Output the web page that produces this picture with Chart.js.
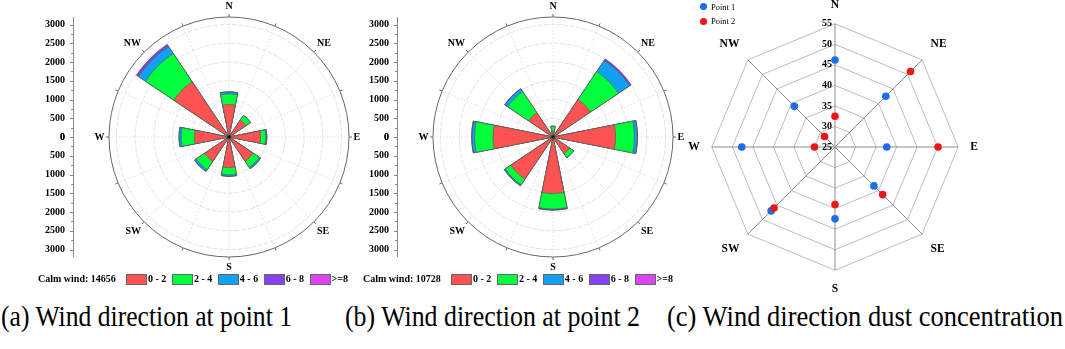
<!DOCTYPE html>
<html>
<head>
<meta charset="utf-8">
<script src="https://cdn.jsdelivr.net/npm/chart.js@4.4.1/dist/chart.umd.min.js"></script>
<style>
body { margin: 0; background: #fff; }
#wrap { position: relative; width: 1065px; height: 349px; overflow: hidden; font-family: 'Liberation Serif', 'Times New Roman', serif; color: #000; }
canvas { position: absolute; }
.lg { position: absolute; font-weight: bold; font-size: 10px; line-height: 12px; white-space: nowrap; }
.box { position: absolute; width: 19px; height: 9px; border: 0.5px solid #666; }
.cap { position: absolute; font-size: 29px; line-height: 29px; white-space: nowrap; transform-origin: 0 0; }
.dot { position: absolute; width: 7px; height: 7px; border-radius: 50%; }
.pl { position: absolute; font-size: 8.5px; line-height: 10px; white-space: nowrap; }
</style>
</head>
<body>
<div id="wrap">
  <canvas id="rose1" width="365" height="275" style="left:0;top:0"></canvas>
  <canvas id="rose2" width="365" height="275" style="left:324px;top:0"></canvas>
  <canvas id="radar" width="300" height="298" style="left:684px;top:-1px"></canvas>

  <div class="dot" style="left:700px;top:3px;background:#1a6ee6"></div>
  <div class="pl" style="left:711px;top:2px">Point 1</div>
  <div class="dot" style="left:700px;top:18px;background:#f01414"></div>
  <div class="pl" style="left:711px;top:16px">Point 2</div>

  <div class="cap" data-w="291" style="left:1px;top:302px">(a) Wind direction at point 1</div>
  <div class="cap" data-w="295" style="left:345px;top:302px">(b) Wind direction at point 2</div>
  <div class="cap" data-w="396" style="left:667px;top:302px">(c) Wind direction dust concentration</div>
</div>
<script>
var directions = ['N', 'NE', 'E', 'SE', 'S', 'SW', 'W', 'NW'];
var speedClasses = ['0 - 2', '2 - 4', '4 - 6', '6 - 8', '>=8'];
var speedColors = ['#ff5252', '#00ff3c', '#12a0f0', '#8344ee', '#dd44f4'];

// wind counts per direction (N, NE, E, SE, S, SW, W, NW), point 1
var p1Speed0_2 = [870, 545, 840, 775, 815, 780, 920, 1770];
var p1Speed2_4 = [280, 145, 140, 200, 195, 270, 355, 910];
var p1Speed4_6 = [50, 0, 25, 35, 35, 50, 55, 225];
var p1Speed6_8 = [5, 0, 5, 5, 5, 5, 5, 55];
var p1Speed8 = [0, 0, 0, 0, 0, 0, 0, 10];
var calmWind1 = 14656;

// point 2
var p2Speed0_2 = [150, 1200, 1670, 530, 1510, 1350, 1600, 780];
var p2Speed2_4 = [135, 900, 500, 130, 410, 180, 490, 670];
var p2Speed4_6 = [0, 360, 75, 0, 20, 30, 70, 90];
var p2Speed6_8 = [5, 40, 10, 5, 10, 5, 10, 10];
var p2Speed8 = [0, 5, 0, 0, 0, 0, 0, 0];
var calmWind2 = 10728;

var roseTicks = [0, 500, 1000, 1500, 2000, 2500, 3000];
var roseMax = 3200;

// dust concentration by wind direction
var dustTicks = [25, 30, 35, 40, 45, 50, 55];
var dustPoint1 = [46.2, 42.5, 37.6, 38.4, 42.5, 47, 47.7, 39];
var dustPoint2 = [32.5, 51, 50.1, 41.4, 39, 46, 30, 28.6];

var serif = 'Liberation Serif';

// wind rose extras: angle lines, outer ticks, direction labels, left axis
var rosePlugin = {
  id: 'roseExtras',
  beforeDatasetsDraw: function(chart) {
    var s = chart.scales.r, ctx = chart.ctx;
    ctx.save();
    ctx.strokeStyle = '#d8d8d8';
    ctx.lineWidth = 0.8;
    ctx.setLineDash([1.5, 2]);
    for (var i = 0; i < 16; i++) {
      var p = s.getPointPosition(i, s.drawingArea, Math.PI / 16);
      ctx.beginPath();
      ctx.moveTo(s.xCenter, s.yCenter);
      ctx.lineTo(p.x, p.y);
      ctx.stroke();
    }
    ctx.restore();
  },
  afterDraw: function(chart) {
    var s = chart.scales.r, ctx = chart.ctx;
    var R = s.drawingArea;
    ctx.save();
    // ticks on the outer ring
    ctx.strokeStyle = '#666';
    ctx.lineWidth = 1;
    for (var i = 0; i < 16; i++) {
      var a = s.getPointPosition(i, R, Math.PI / 16);
      var b = s.getPointPosition(i, R + 3, Math.PI / 16);
      ctx.beginPath(); ctx.moveTo(a.x, a.y); ctx.lineTo(b.x, b.y); ctx.stroke();
    }
    // direction labels
    ctx.fillStyle = '#000';
    ctx.font = 'bold 10px "' + serif + '"';
    ctx.textBaseline = 'middle';
    for (var k = 0; k < directions.length; k++) {
      var deg = k * 45;
      var p = s.getPointPosition(2 * k, R + 4.5, Math.PI / 16);
      var y = p.y;
      if (deg === 0 || deg === 180) ctx.textAlign = 'center';
      else ctx.textAlign = deg < 180 ? 'left' : 'right';
      if (deg < 90 || deg > 270) y = p.y - 6;
      else if (deg > 90 && deg < 270) y = p.y + 6;
      ctx.fillText(directions[k], p.x, y);
    }
    // left value axis
    var ax = s.xCenter - 156;
    ctx.strokeStyle = '#888';
    ctx.beginPath(); ctx.moveTo(ax + 0.5, s.yCenter - R); ctx.lineTo(ax + 0.5, s.yCenter + R); ctx.stroke();
    ctx.textAlign = 'right';
    for (var t = 0; t < roseTicks.length; t++) {
      var v = roseTicks[t];
      var d = s.getDistanceFromCenterForValue(v);
      [-1, 1].forEach(function(sign) {
        var yy = Math.round(s.yCenter + sign * d) + 0.5;
        ctx.beginPath(); ctx.moveTo(ax - 3, yy); ctx.lineTo(ax, yy); ctx.stroke();
        if (v < roseTicks[roseTicks.length - 1]) {
          var ym = Math.round(s.yCenter + sign * s.getDistanceFromCenterForValue(v + 250)) + 0.5;
          ctx.beginPath(); ctx.moveTo(ax - 2, ym); ctx.lineTo(ax, ym); ctx.stroke();
        }
        ctx.fillText(String(v), ax - 8, s.yCenter + sign * d);
      });
    }
    // centre dot
    ctx.fillStyle = '#111';
    ctx.fillRect(s.xCenter - 1.5, s.yCenter - 1.5, 3, 3);
    ctx.restore();
  }
};

function makeRose(id, classes) {
  var labels = [];
  directions.forEach(function(d) { labels.push(d, ''); });
  var running = directions.map(function() { return 0; });
  var datasets = classes.map(function(vals, c) {
    var data = [];
    vals.forEach(function(v, i) {
      running[i] += v;
      data.push(running[i], 0);
    });
    return {
      label: speedClasses[c],
      data: data,
      backgroundColor: speedColors[c],
      borderColor: '#555',
      borderWidth: 0.6
    };
  });
  return new Chart(document.getElementById(id), {
    type: 'polarArea',
    data: { labels: labels, datasets: datasets },
    options: {
      responsive: false,
      animation: false,
      events: [],
      layout: { padding: { left: 109, top: 17, right: 16, bottom: 18 } },
      plugins: { legend: { display: false }, tooltip: { enabled: false } },
      scales: {
        r: {
          min: 0,
          max: roseMax,
          startAngle: -11.25,
          afterBuildTicks: function(scale) {
            scale.ticks = roseTicks.concat([roseMax]).map(function(v) { return { value: v }; });
          },
          ticks: { display: false },
          grid: {
            color: function(c) { return c.tick && c.tick.value >= roseMax ? '#666' : '#e2e2e2'; },
            lineWidth: 1
          },
          border: { dash: function(c) { return c.tick && c.tick.value >= roseMax ? [] : [5, 1.5]; } },
          angleLines: { display: false },
          pointLabels: { display: false }
        }
      }
    },
    plugins: [rosePlugin]
  });
}

makeRose('rose1', [p1Speed0_2, p1Speed2_4, p1Speed4_6, p1Speed6_8, p1Speed8]);
makeRose('rose2', [p2Speed0_2, p2Speed2_4, p2Speed4_6, p2Speed6_8, p2Speed8]);

// radar tick labels sit just left of the north axis
var radarTicks = {
  id: 'radarTicks',
  afterDatasetsDraw: function(chart) {
    var s = chart.scales.r, ctx = chart.ctx;
    ctx.save();
    ctx.fillStyle = '#000';
    ctx.font = 'bold 10px "' + serif + '"';
    ctx.textAlign = 'right';
    ctx.textBaseline = 'middle';
    dustTicks.forEach(function(v) {
      ctx.fillText(String(v), s.xCenter - 3, s.yCenter - s.getDistanceFromCenterForValue(v));
    });
    ctx.restore();
  }
};

new Chart(document.getElementById('radar'), {
  type: 'radar',
  data: {
    labels: directions,
    datasets: [
      { label: 'Point 1', data: dustPoint1, showLine: false, fill: false, pointRadius: 3.8, pointBorderWidth: 0,
        pointBackgroundColor: '#1a6ee6', borderColor: '#1a6ee6', backgroundColor: 'rgba(0,0,0,0)', order: 1 },
      { label: 'Point 2', data: dustPoint2, showLine: false, fill: false, pointRadius: 3.8, pointBorderWidth: 0,
        pointBackgroundColor: '#f01414', borderColor: '#f01414', backgroundColor: 'rgba(0,0,0,0)', order: 0 }
    ]
  },
  options: {
    responsive: false,
    animation: false,
    events: [],
    plugins: { legend: { display: false }, tooltip: { enabled: false } },
    scales: {
      r: {
        min: 25,
        max: 55,
        ticks: { display: false, stepSize: 5 },
        grid: { color: '#bdbdbd', lineWidth: 1 },
        angleLines: { color: '#8c8c8c', lineWidth: 1 },
        pointLabels: { color: '#000', padding: 12, font: { family: serif, size: 11.5, weight: 'bold' } }
      }
    }
  },
  plugins: [radarTicks]
});

// legends under the wind roses
function buildLegend(x0, calm) {
  var wrap = document.getElementById('wrap');
  var t = document.createElement('div');
  t.className = 'lg';
  t.style.left = x0 + 'px';
  t.style.top = '273px';
  t.textContent = 'Calm wind: ' + calm;
  wrap.appendChild(t);
  for (var i = 0; i < speedClasses.length; i++) {
    var bx = x0 + 88 + i * 45.9;
    var b = document.createElement('div');
    b.className = 'box';
    b.style.left = bx + 'px';
    b.style.top = '274px';
    b.style.background = speedColors[i];
    wrap.appendChild(b);
    var l = document.createElement('div');
    l.className = 'lg';
    l.style.left = (bx + 22) + 'px';
    l.style.top = '273px';
    l.textContent = speedClasses[i];
    wrap.appendChild(l);
  }
}
buildLegend(38, calmWind1);
buildLegend(363, calmWind2);

// squeeze captions to the reference widths
document.querySelectorAll('.cap').forEach(function(el) {
  var w = el.getBoundingClientRect().width;
  el.style.transform = 'scaleX(' + (Number(el.dataset.w) / w) + ')';
});
</script>
</body>
</html>
